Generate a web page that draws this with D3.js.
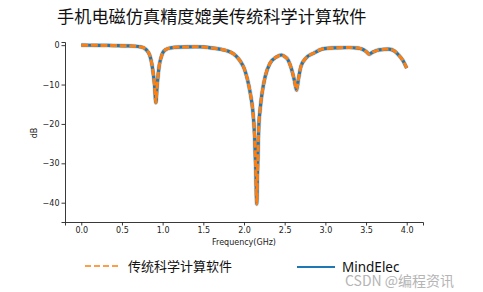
<!DOCTYPE html>
<html>
<head>
<meta charset="utf-8">
<script src="https://cdn.jsdelivr.net/npm/d3@7"></script>
<style>
  body { margin: 0; background: #fff; }
  svg { display: block; }
  .tick text { font-family: "DejaVu Sans", sans-serif; font-size: 8px; fill: #222; }
</style>
</head>
<body>
<div class="chart"></div>
<script>
const freq = [0.0, 0.2, 0.4, 0.6, 0.7, 0.76, 0.8, 0.84, 0.86, 0.88, 0.9, 0.917, 0.93, 0.945, 0.96, 0.98,
  1.0, 1.04, 1.1, 1.2, 1.3, 1.4, 1.5, 1.6, 1.7, 1.8, 1.87, 1.93, 1.97, 2.0, 2.04, 2.08, 2.11, 2.13,
  2.145, 2.157, 2.165, 2.18, 2.2, 2.22, 2.26, 2.32, 2.4, 2.46, 2.5, 2.54, 2.58, 2.62, 2.646, 2.67,
  2.7, 2.76, 2.86, 2.96, 3.1, 3.29, 3.4, 3.45, 3.5, 3.54, 3.58, 3.66, 3.78, 3.85, 3.9, 3.95, 4.0];
const mindElecDb = [0, -0.05, -0.1, -0.2, -0.35, -0.6, -1.2, -2.5, -4.0, -6.5, -10, -14.6, -11, -7.5, -5, -3.2,
  -2.0, -1.1, -0.7, -0.5, -0.45, -0.4, -0.45, -0.7, -1.0, -1.5, -2.2, -3.4, -4.6, -5.8, -8.5, -12.5, -17, -23,
  -32, -40.3, -33, -21.5, -16, -12.5, -8, -4.6, -3.0, -2.5, -2.9, -3.7, -5.8, -9, -11.4, -8.5,
  -5.4, -3.3, -2.0, -1.0, -0.7, -0.6, -0.75, -1.0, -1.6, -2.3, -1.8, -1.2, -1.0, -1.5, -2.5, -3.8, -5.85];
const classicDb = [0, -0.05, -0.1, -0.2, -0.35, -0.6, -1.2, -2.5, -4.0, -6.5, -10, -14.6, -11, -7.5, -5, -3.2,
  -2.0, -1.1, -0.7, -0.5, -0.45, -0.4, -0.45, -0.7, -1.0, -1.5, -2.2, -3.4, -4.6, -5.8, -8.5, -12.5, -17, -23,
  -32, -40.3, -33, -21.5, -16, -12.5, -8, -4.6, -3.0, -2.5, -2.9, -3.7, -5.8, -9, -11.4, -8.5,
  -5.4, -3.3, -2.0, -1.0, -0.7, -0.6, -0.75, -1.0, -1.6, -2.3, -1.8, -1.2, -1.0, -1.5, -2.5, -3.8, -5.85];
const xTicks = [0.0, 0.5, 1.0, 1.5, 2.0, 2.5, 3.0, 3.5, 4.0];
const yTicks = [0, -10, -20, -30, -40];
const title = '手机电磁仿真精度媲美传统科学计算软件';
const legendNames = ['传统科学计算软件', 'MindElec'];

const width = 483, height = 292;
const margin = {left: 65, right: 423, top: 42, bottom: 222};

const svg = d3.select('.chart')
  .append('svg')
    .attr('width', width)
    .attr('height', height);

const x = d3.scaleLinear().domain([-0.2, 4.2]).range([margin.left, margin.right]);
const y = d3.scaleLinear().domain([-44.9, 0.8]).range([margin.bottom, margin.top]);

// axes
const fmt1 = d3.format('.1f');
svg.append('g')
  .attr('transform', `translate(0,${margin.bottom})`)
  .call(d3.axisBottom(x).tickValues(xTicks).tickFormat(fmt1).tickSizeOuter(0).tickSize(3.5).tickPadding(2))
  .call(g => g.select('.domain').attr('stroke', '#222').attr('stroke-width', 0.9))
  .call(g => g.selectAll('.tick line').attr('stroke', '#222').attr('stroke-width', 0.9));

svg.append('g')
  .attr('transform', `translate(${margin.left},0)`)
  .call(d3.axisLeft(y).tickValues(yTicks).tickFormat(d => d < 0 ? '\u2212' + Math.abs(d) : d).tickSizeOuter(0).tickSize(3.5).tickPadding(2))
  .call(g => g.select('.domain').attr('stroke', '#222').attr('stroke-width', 0.9))
  .call(g => g.selectAll('.tick line').attr('stroke', '#222').attr('stroke-width', 0.9));

// labels
svg.append('text')
  .attr('x', (margin.left + margin.right) / 2).attr('y', 245)
  .attr('text-anchor', 'middle')
  .attr('font-family', 'DejaVu Sans, sans-serif')
  .attr('font-size', 8).attr('fill', '#222')
  .text('Frequency(GHz)');

svg.append('text')
  .attr('transform', 'translate(37,133) rotate(-90)')
  .attr('text-anchor', 'middle')
  .attr('font-family', 'DejaVu Sans, sans-serif')
  .attr('font-size', 8).attr('fill', '#222')
  .text('dB');

svg.append('text')
  .attr('x', 57).attr('y', 23)
  .attr('font-family', '"Noto Sans CJK SC", sans-serif')
  .attr('font-size', 17.2).attr('fill', '#111')
  .text(title);

// lines
const line = d3.line()
  .x((d, i) => x(freq[i]))
  .y(d => y(d))
  .curve(d3.curveMonotoneX);

// soft halo under the blue line, like the anti-aliased original
svg.append('path')
  .attr('d', line(mindElecDb))
  .attr('fill', 'none')
  .attr('stroke', '#a9c9e2')
  .attr('stroke-width', 4.6)
  .attr('stroke-opacity', 0.6);

svg.append('path')
  .attr('d', line(mindElecDb))
  .attr('fill', 'none')
  .attr('stroke', '#1f77b4')
  .attr('stroke-width', 3.2)
  .attr('stroke-linejoin', 'round');

svg.append('path')
  .attr('d', line(classicDb))
  .attr('fill', 'none')
  .attr('stroke', '#ff7f0e')
  .attr('stroke-width', 3.0)
  .attr('stroke-dasharray', '7,2.6');

// legend
const legend = svg.append('g');
legend.append('line')
  .attr('x1', 85).attr('x2', 119).attr('y1', 266).attr('y2', 266)
  .attr('stroke', '#ff7f0e').attr('stroke-width', 1.6).attr('stroke-dasharray', '6,3');
legend.append('text')
  .attr('x', 128).attr('y', 271)
  .attr('font-family', '"Noto Sans CJK SC", sans-serif')
  .attr('font-size', 13).attr('fill', '#111')
  .text(legendNames[0]);
legend.append('line')
  .attr('x1', 297).attr('x2', 335).attr('y1', 267).attr('y2', 267)
  .attr('stroke', '#1f77b4').attr('stroke-width', 1.8);
legend.append('text')
  .attr('x', 342).attr('y', 272)
  .attr('font-family', '"Noto Sans", sans-serif')
  .attr('font-size', 13.5).attr('fill', '#111')
  .text(legendNames[1]);

// watermark
svg.append('text')
  .attr('x', 345).attr('y', 286)
  .attr('font-family', '"Noto Sans CJK SC", sans-serif')
  .attr('font-size', 14).attr('fill', '#b5b5b5')
  .attr('stroke', '#fff').attr('stroke-width', 0.6).attr('paint-order', 'stroke')
  .text('CSDN @编程资讯');
</script>
</body>
</html>
